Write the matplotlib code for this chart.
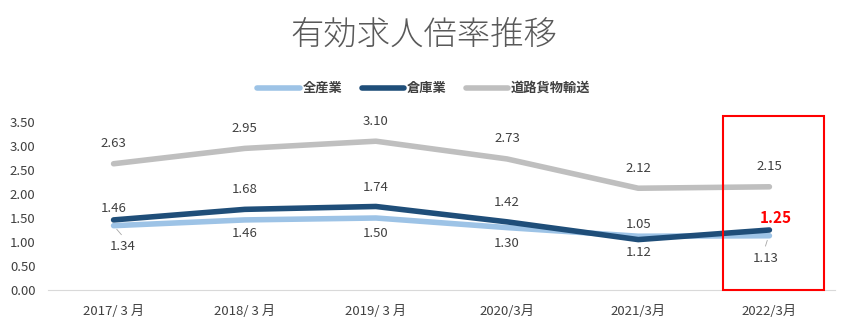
import matplotlib.pyplot as plt
from matplotlib.patches import Rectangle

plt.rcParams['font.family'] = ['Noto Sans CJK JP', 'DejaVu Sans']

# 年度と有効求人倍率
months = ['2017/ 3 月', '2018/ 3 月', '2019/ 3 月', '2020/3月', '2021/3月', '2022/3月']
all_industry = [1.34, 1.46, 1.50, 1.30, 1.12, 1.13]
warehouse = [1.46, 1.68, 1.74, 1.42, 1.05, 1.25]
road_freight = [2.63, 2.95, 3.10, 2.73, 2.12, 2.15]

c_all = '#9DC3E6'
c_wh = '#1F4E79'
c_road = '#BFBFBF'
txt = '#404040'

fig = plt.figure(figsize=(8.48, 3.33), dpi=100)
ax = fig.add_axes([48 / 848, 43 / 333, 787 / 848, 168 / 333])

x = list(range(len(months)))
ax.plot(x, all_industry, color=c_all, lw=4, solid_capstyle='round', solid_joinstyle='round', label='全産業')
ax.plot(x, warehouse, color=c_wh, lw=4, solid_capstyle='round', solid_joinstyle='round', label='倉庫業')
ax.plot(x, road_freight, color=c_road, lw=4, solid_capstyle='round', solid_joinstyle='round', label='道路貨物輸送')

ax.set_xlim(-0.5, 5.5)
ax.set_ylim(0, 3.5)
ax.set_xticks(x)
ax.set_xticklabels(months, color=txt, fontsize=9.5)
ax.set_yticks([0, 0.5, 1.0, 1.5, 2.0, 2.5, 3.0, 3.5])
ax.set_yticklabels([f'{v:.2f}' for v in ax.get_yticks()], color=txt, fontsize=9.5)
ax.tick_params(length=0, pad=9)
ax.tick_params(axis='x', pad=11)
for s in ['top', 'right', 'left']:
    ax.spines[s].set_visible(False)
ax.spines['bottom'].set_color('#D9D9D9')


def label(i, v, dx, dy, **kw):
    style = dict(ha='center', va='center', fontsize=9.5, color=txt)
    style.update(kw)
    ax.annotate(f'{v:.2f}', (i, v), xytext=(dx, dy), textcoords='offset points', **style)


# データラベル
for i, v in enumerate(road_freight):
    label(i, v, 0, 14.5)

wh_off = [(0, 8), (0, 14), (0, 14), (0, 14), (0, 11), (4.5, 8.5)]
for i, v in enumerate(warehouse):
    dx, dy = wh_off[i]
    if i == 5:
        label(i, v, dx, dy, fontsize=11, color='#FF0000', fontweight='bold')
    else:
        label(i, v, dx, dy)

all_off = [(6.5, -15), (0, -10), (0, -11), (0, -11.5), (0, -12), (-3, -16.5)]
for i, v in enumerate(all_industry):
    dx, dy = all_off[i]
    label(i, v, dx, dy)

# 引き出し線
ax.annotate('', (0.01, all_industry[0] - 0.03), xytext=(6, -7), textcoords='offset points',
            arrowprops=dict(arrowstyle='-', color='#A6A6A6', lw=0.6))
ax.annotate('', (5 - 0.01, all_industry[5] - 0.04), xytext=(-2.5, -8), textcoords='offset points',
            arrowprops=dict(arrowstyle='-', color='#A6A6A6', lw=0.6))

# 2022年の強調枠
ax.add_patch(Rectangle((4.645, 0), 0.77, 3.625, fill=False, edgecolor='#FF0000',
                       lw=1.5, clip_on=False, zorder=5))

fig.text(0.5, 0.895, '有効求人倍率推移', ha='center', va='center', fontsize=24,
         color='#595959', fontweight='light')
leg = fig.legend(loc='center', bbox_to_anchor=(0.5, 0.735), ncol=3, frameon=False,
                 fontsize=9.5, handlelength=3.2, columnspacing=1.5, handletextpad=0.2)
for t in leg.get_texts():
    t.set_color(txt)
    t.set_fontweight('bold')

fig.savefig('out.png', dpi=100)
